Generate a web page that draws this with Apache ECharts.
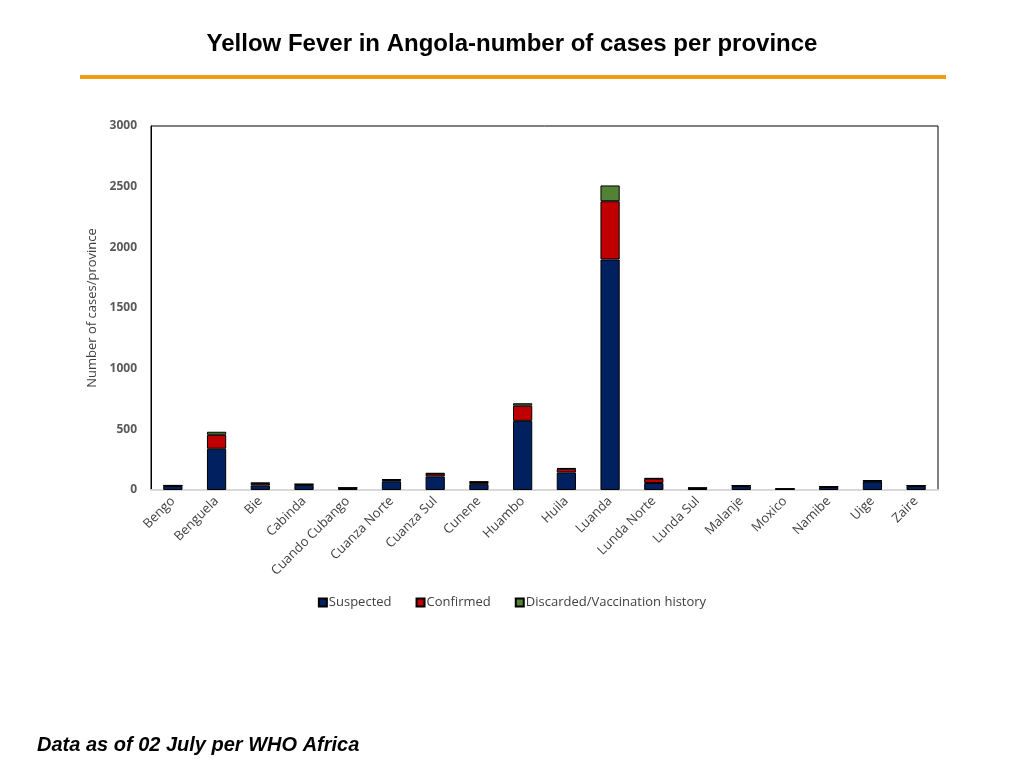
<!DOCTYPE html>
<html><head><meta charset="utf-8">
<script src="https://cdn.jsdelivr.net/npm/echarts@6/dist/echarts.min.js"></script>
<style>html,body{margin:0;padding:0;background:#fff;}#c{width:1024px;height:768px;}</style>
</head><body><div id="c"></div>
<script>
const provinces = ["Bengo","Benguela","Bie","Cabinda","Cuando Cubango","Cuanza Norte","Cuanza Sul","Cunene","Huambo","Huila","Luanda","Lunda Norte","Lunda Sul","Malanje","Moxico","Namibe","Uige","Zaire"];
const suspected = [33,340,38,42,14,72,112,48,570,145,1900,58,14,32,8,24,70,32];
const confirmed = [4,115,18,5,3,12,23,18,125,30,480,35,2,4,1,4,6,4];
const discarded = [1,25,3,2,1,4,4,3,20,5,130,5,1,1,0,1,2,1];
const yTicks = [0,500,1000,1500,2000,2500,3000];

const chart = echarts.init(document.getElementById('c'));
const font = "'Open Sans', 'Noto Sans', sans-serif";
function ser(name, data, color){
  return {name, type:'bar', stack:'t', data, barWidth:'44%',
    itemStyle:{color, borderColor:'#000', borderWidth:1}};
}
chart.setOption({
  backgroundColor:'#fff',
  title:{text:'Yellow Fever in Angola-number of cases per province', left:'center', top:27,
    textStyle:{fontFamily:"'Liberation Sans', Arial, sans-serif", fontWeight:'bold', fontSize:24, color:'#000'}},
  graphic:[
    {type:'rect', shape:{x:80,y:75,width:866,height:4}, style:{fill:'#f39c12'}},
    {type:'text', left:37, top:735, style:{text:'Data as of 02 July per WHO Africa',
      font:"italic bold 20px 'Liberation Sans', Arial, sans-serif", fill:'#000'}}
  ],
  legend:{bottom:154, left:'center', itemWidth:8, itemHeight:8, itemGap:24, icon:'rect',
    textStyle:{fontFamily:font, fontSize:13, color:'#404040', padding:[0,0,0,-3]},
    data:['Suspected','Confirmed','Discarded/Vaccination history']},
  grid:{left:151, right:86, top:126, bottom:278, show:true, borderColor:'#000', borderWidth:1},
  xAxis:{type:'category', data:provinces,
    axisLine:{lineStyle:{color:'#d9d9d9', width:2}}, axisTick:{show:false},
    axisLabel:{rotate:45, interval:0, margin:9, fontFamily:font, fontSize:13, color:'#404040'}},
  yAxis:{type:'value', min:0, max:3000, interval:500,
    name:'Number of cases/province', nameLocation:'middle', nameGap:47,
    nameTextStyle:{fontFamily:font, fontSize:13, color:'#404040'},
    axisLine:{show:true, lineStyle:{color:'#000'}}, axisTick:{show:false}, splitLine:{show:false},
    axisLabel:{fontFamily:font, fontSize:12, fontWeight:'bold', color:'#595959', margin:14,
      formatter:v=>yTicks.includes(v)?String(v):''}},
  series:[
    ser('Suspected', suspected, '#002060'),
    ser('Confirmed', confirmed, '#c00000'),
    ser('Discarded/Vaccination history', discarded, '#548235')
  ]
});
</script></body></html>
